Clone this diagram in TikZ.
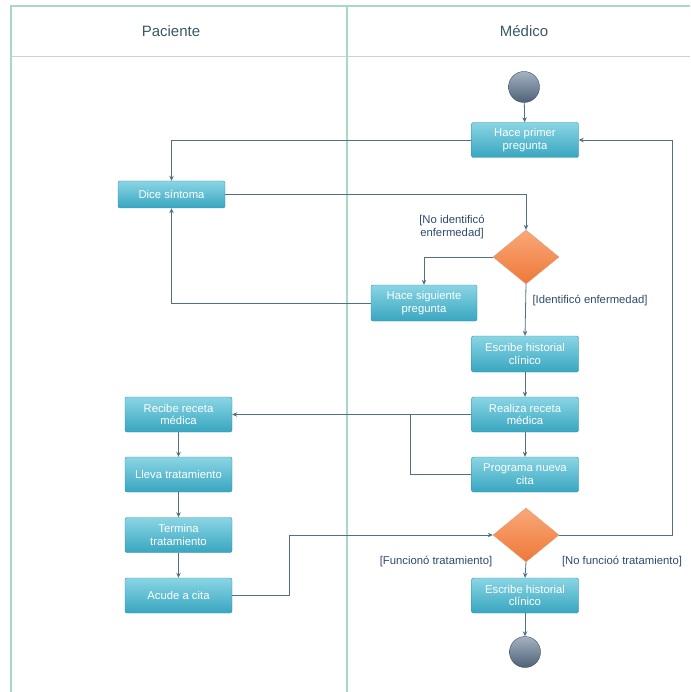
\documentclass[tikz,border=0pt]{standalone}
\usepackage{fontspec}
\setmainfont{Liberation Sans}
\usepackage{xcolor}
\usepackage{tikz}
\usetikzlibrary{arrows.meta,positioning,shapes.geometric}
\definecolor{acttop}{HTML}{8AD5E4}
\definecolor{actbot}{HTML}{38A6C0}
\definecolor{actedge}{HTML}{2E90A8}
\definecolor{dectop}{HTML}{F9A878}
\definecolor{decbot}{HTML}{EE7838}
\definecolor{flowline}{HTML}{527080}
\definecolor{laneedge}{HTML}{A8D8CA}
\definecolor{lanehead}{HTML}{CFD2D2}
\definecolor{guardtxt}{HTML}{2C4A70}
\definecolor{headtxt}{HTML}{3A5868}
\definecolor{balltop}{HTML}{A4B2C2}
\definecolor{ballbot}{HTML}{4E6178}

\begin{document}
\begin{tikzpicture}[x=1pt,y=1pt,font=\fontsize{11.3}{12.8}\selectfont,
  act/.style={rectangle,rounded corners=2pt,draw=actedge,top color=acttop,bottom color=actbot,
              text=white,align=center,inner sep=2pt,minimum width=107pt,minimum height=35pt},
  dec/.style={diamond,draw=decbot!80!black!60,top color=dectop,bottom color=decbot,inner sep=0pt,
              minimum width=66pt,minimum height=54pt},
  ballnode/.style={circle,draw=ballbot!80!black,top color=balltop,bottom color=ballbot,
                   minimum size=31pt,inner sep=0pt},
  flow/.style={draw=flowline,line width=0.8pt,-{Stealth[length=5pt,width=4.5pt]}},
  link/.style={draw=flowline,line width=0.8pt},
  lane/.style={draw=laneedge,line width=1.1pt},
  guard/.style={text=guardtxt,align=center},
  hdr/.style={text=headtxt,font=\fontsize{15}{17}\selectfont}]
\useasboundingbox (0,0) rectangle (690,-692);
% swimlanes
\draw[lanehead,line width=0.9pt] (11,-56) -- (690,-56);
\draw[lane] (11,-692) -- (11,-6) -- (690,-6);
\draw[lane] (347,-6) -- (347,-692);
\node[hdr] (hpac) at (171,-31) {Paciente};
\node[hdr] (hmed) at (524,-31) {Médico};

% medico
\node[ballnode] (ini) at (524,-87) {};
\node[act] (hp) at (525,-140) {Hace primer\\pregunta};
\node[dec] (d1) at (526,-257) {};
\node[act,minimum width=106pt,minimum height=36pt] (hs) at (424,-303) {Hace siguiente\\pregunta};
\node[act,minimum height=36pt] (eh) at (525,-354) {Escribe historial\\clínico};
\node[act] (rr) at (525,-414.5) {Realiza receta\\médica};
\node[act] (pn) at (525,-474.5) {Programa nueva\\cita};
\node[dec] (d2) at (526,-535) {};
\node[act] (eh2) at (525,-595.5) {Escribe historial\\clínico};
\node[ballnode] (fin) at (525,-652) {};

% paciente
\node[act,minimum height=27pt] (ds) at (171.5,-194.5) {Dice síntoma};
\node[act] (rc) at (178.5,-414.5) {Recibe receta\\médica};
\node[act] (lt) at (178.5,-474.5) {Lleva tratamiento};
\node[act] (tt) at (178.5,-535) {Termina\\tratamiento};
\node[act] (ac) at (178.5,-595.5) {Acude a cita};

\coordinate (jn) at (410,-414.5);
\coordinate (k1) at (289,-535);
\coordinate (k2) at (672,-140);

% flujo
\draw[flow] (ini) -- (hp);
\draw[flow] (hp.west) -| (ds.north);
\draw[flow] (ds.east) -| (d1.north);
\draw[flow] (d1.west) -| (hs.north);
\draw[flow] (hs.west) -| (ds.south);
\draw[flow] (d1.south) -- (eh.north);
\draw[flow] (eh) -- (rr);
\draw[flow] (rr.west) -- (rc.east);
\draw[flow] (rr) -- (pn);
\draw[link] (pn.west) -| (jn);
\draw[flow] (rc) -- (lt);
\draw[flow] (lt) -- (tt);
\draw[flow] (tt) -- (ac);
\draw[flow] (ac.east) -| (k1) -- (d2.west);
\draw[flow] (d2.east) -| (k2) -- (hp.east);
\draw[flow] (d2.south) -- (eh2.north);
\draw[flow] (eh2) -- (fin);

% guardas
\node[guard] (g1) at (452,-227) {[No identificó\\enfermedad]};
\node[guard] (g2) at (590,-301) {[Identificó enfermedad]};
\node[guard] (g3) at (436,-562) {[Funcionó tratamiento]};
\node[guard] (g4) at (622,-562) {[No funcioó tratamiento]};
\end{tikzpicture}
\end{document}
